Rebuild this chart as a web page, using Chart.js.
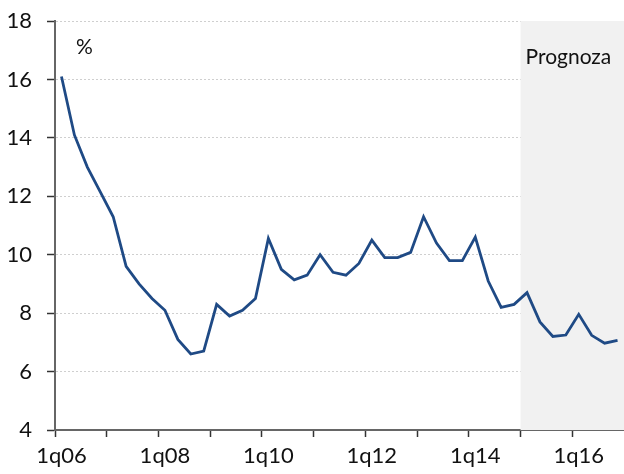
<!DOCTYPE html>
<html>
<head>
<meta charset="utf-8">
<script src="https://cdn.jsdelivr.net/npm/chart.js@4"></script>
<style>
  html, body { margin: 0; padding: 0; background: #fff; }
  #wrap { width: 624px; height: 474px; }
</style>
</head>
<body>
<div id="wrap"><canvas id="myChart" width="624" height="474"></canvas></div>
<script>
const years = ["06", "07", "08", "09", "10", "11", "12", "13", "14", "15", "16"];
const quarters = [];
years.forEach(y => { for (let q = 1; q <= 4; q++) quarters.push(q + "q" + y); });

const values = [
  16.1, 14.1, 13.0, 12.15, 11.3, 9.6, 9.0, 8.5,
  8.1, 7.1, 6.6, 6.7, 8.3, 7.9, 8.1, 8.5,
  10.56, 9.5, 9.14, 9.3, 10.0, 9.4, 9.3, 9.7,
  10.5, 9.9, 9.9, 10.08, 11.3, 10.4, 9.8, 9.8,
  10.6, 9.1, 8.2, 8.3, 8.7, 7.7, 7.2, 7.25,
  7.96, 7.24, 6.97, 7.07
];
const forecastStart = "1q15";
const yTicks = [4, 6, 8, 10, 12, 14, 16, 18];

const FONT = "Lato";

const shadePlugin = {
  id: "shade",
  beforeDatasetsDraw(chart) {
    const { ctx, chartArea, scales } = chart;
    const idx = quarters.indexOf(forecastStart);
    const half = (scales.x.getPixelForValue(1) - scales.x.getPixelForValue(0)) / 2;
    const x0 = scales.x.getPixelForValue(idx) - half;
    ctx.save();
    ctx.fillStyle = "#f1f1f1";
    ctx.fillRect(x0, chartArea.top, chartArea.right - x0, chartArea.bottom - chartArea.top);
    ctx.restore();
  },
  afterDraw(chart) {
    const { ctx, chartArea, scales } = chart;
    const idx = quarters.indexOf(forecastStart);
    const half = (scales.x.getPixelForValue(1) - scales.x.getPixelForValue(0)) / 2;
    const x0 = scales.x.getPixelForValue(idx) - half;
    ctx.save();
    ctx.fillStyle = "#111";
    ctx.font = "21px " + FONT;
    ctx.textBaseline = "alphabetic";
    ctx.textAlign = "left";
    ctx.fillText("%", chartArea.left + 21, chartArea.top + 33);
    ctx.fillText("Prognoza", x0 + 5, chartArea.top + 43);
    ctx.restore();
  }
};

new Chart(document.getElementById("myChart").getContext("2d"), {
  type: "line",
  data: {
    labels: quarters,
    datasets: [{
      data: values,
      borderColor: "#1f4a85",
      borderWidth: 2.8,
      pointRadius: 0,
      tension: 0,
      fill: false
    }]
  },
  options: {
    responsive: false,
    animation: false,
    layout: { padding: { top: 21, right: 0, bottom: 0, left: 0 } },
    plugins: { legend: { display: false }, tooltip: { enabled: false } },
    scales: {
      x: {
        offset: true,
        afterFit(scale) { scale.height = 44; },
        border: { display: true, color: "#666", width: 2 },
        grid: {
          offset: true,
          drawOnChartArea: false,
          drawTicks: true,
          tickLength: 7,
          tickWidth: 1.5,
          tickColor: ctx => (ctx.index % 4 === 0 ? "#333" : "rgba(0,0,0,0)")
        },
        ticks: {
          autoSkip: false,
          maxRotation: 0,
          padding: 6,
          color: "#111",
          font: { family: FONT, size: 22 },
          callback: (v, i) => (i % 8 === 0 ? quarters[i] : "")
        }
      },
      y: {
        min: 4,
        max: 18,
        afterFit(scale) {
          scale.width = 55;
          scale.paddingTop = 0;
          scale.paddingBottom = 0;
        },
        afterBuildTicks(scale) { scale.ticks = yTicks.map(v => ({ value: v })); },
        border: { display: true, color: "#666", width: 2, dash: [2, 2] },
        grid: {
          color: "#cfcfcf",
          lineWidth: 1,
          tickBorderDash: [],
          tickColor: "#333",
          tickLength: 8,
          tickWidth: 1.5
        },
        ticks: {
          padding: 15,
          color: "#111",
          font: { family: FONT, size: 22 }
        }
      }
    }
  },
  plugins: [shadePlugin]
});
</script>
</body>
</html>
